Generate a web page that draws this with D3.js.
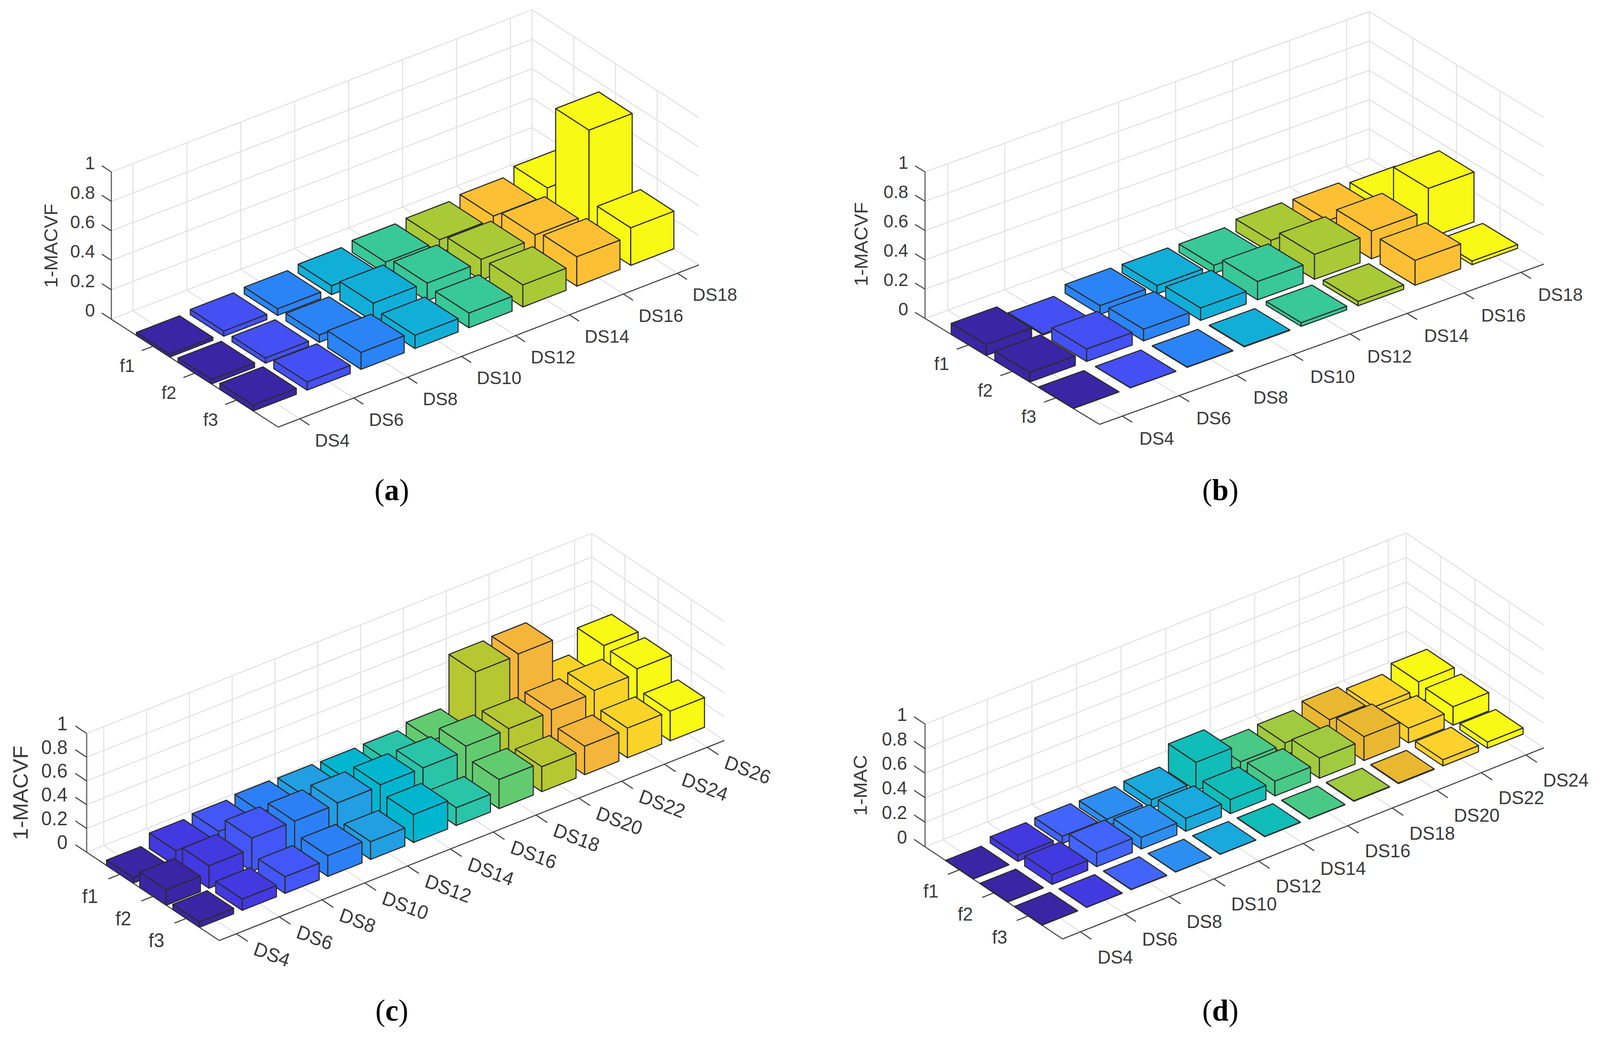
<!DOCTYPE html>
<html>
<head>
<meta charset="utf-8">
<script src="https://cdn.jsdelivr.net/npm/d3@7"></script>
<style>
  html, body { margin: 0; padding: 0; width: 100%; height: 100%; background: #fff; overflow: hidden; }
  svg { display: block; width: 100%; height: 100%; }
  text { font-family: "Liberation Sans", Arial, sans-serif; fill: #3a3a3a; }
</style>
</head>
<body>
<!-- the browser caps the viewport width below 4210, so the drawing is fitted to whatever the page gets -->
<svg id="chart" viewBox="0 0 4210 2659" preserveAspectRatio="none"></svg>
<script>
'use strict';

const rows = ['f1', 'f2', 'f3'];
const zTicks = [0, 0.2, 0.4, 0.6, 0.8, 1];

// Panel a
const dsA = ['DS4', 'DS6', 'DS8', 'DS10', 'DS12', 'DS14', 'DS16', 'DS18'];
const aF1 = [0.02, 0.035, 0.045, 0.06, 0.08, 0.09, 0.11, 0.16];
const aF2 = [0.03, 0.035, 0.05, 0.125, 0.12, 0.14, 0.165, 0.735];
const aF3 = [0.04, 0.055, 0.115, 0.09, 0.10, 0.15, 0.20, 0.255];
const colorsA = ['#3a26a4', '#4450f4', '#2a84f6', '#11afd8', '#39c897', '#a9c936', '#fdc034', '#f8f914'];

// Panel b
const dsB = ['DS4', 'DS6', 'DS8', 'DS10', 'DS12', 'DS14', 'DS16', 'DS18'];
const bF1 = [0.075, 0.007, 0.06, 0.057, 0.055, 0.085, 0.08, 0.055];
const bF2 = [0.065, 0.085, 0.08, 0.085, 0.125, 0.17, 0.19, 0.34];
const bF3 = [0.002, 0.002, 0.003, 0.004, 0.025, 0.03, 0.17, 0.025];
const colorsB = colorsA;

// Panel c
const dsC = ['DS4', 'DS6', 'DS8', 'DS10', 'DS12', 'DS14', 'DS16', 'DS18', 'DS20', 'DS22', 'DS24', 'DS26'];
const cF1 = [0.045, 0.13, 0.15, 0.17, 0.165, 0.16, 0.165, 0.205, 0.635, 0.645, 0.23, 0.43];
const cF2 = [0.13, 0.19, 0.28, 0.28, 0.29, 0.30, 0.30, 0.34, 0.345, 0.36, 0.38, 0.42];
const cF3 = [0.045, 0.095, 0.14, 0.175, 0.15, 0.235, 0.15, 0.245, 0.21, 0.24, 0.25, 0.25];
const colorsC = ['#3a26a4', '#4339e0', '#4356f8', '#2c80f6', '#229ee2', '#00b6cf', '#2ac4a8', '#62cb70', '#b6c731', '#f4b53b', '#f9d328', '#f8f914'];

// Panel d
const dsD = ['DS4', 'DS6', 'DS8', 'DS10', 'DS12', 'DS14', 'DS16', 'DS18', 'DS20', 'DS22', 'DS24'];
const dF1 = [0.002, 0.05, 0.06, 0.055, 0.07, 0.23, 0.09, 0.10, 0.145, 0.105, 0.165];
const dF2 = [0.003, 0.08, 0.115, 0.095, 0.105, 0.115, 0.12, 0.165, 0.195, 0.12, 0.15];
const dF3 = [0.002, 0.002, 0.003, 0.002, 0.002, 0.003, 0.003, 0.004, 0.005, 0.05, 0.05];
const colorsD = ['#3a26a4', '#4339e0', '#4264fb', '#2d8ef2', '#19a9dc', '#11bdb8', '#48c986', '#a0ca3f', '#e9b830', '#fcd12c', '#f8f914'];

const svg = d3.select('#chart');
svg.append('rect').attr('width', 4210).attr('height', 2659).attr('fill', '#fff');

function drawPanel(p) {
    const g = svg.append('g');
    const n = p.ds.length;

    // three skewed axes: each scale gives a screen offset along its own axis
    const fX = d3.scaleLinear().domain([0, 4]).range([0, p.front[0] - p.left[0]]);
    const fY = d3.scaleLinear().domain([0, 4]).range([0, p.front[1] - p.left[1]]);
    const dX = d3.scaleLinear().domain([0.6, n + 0.4]).range([0, p.right[0] - p.front[0]]);
    const dY = d3.scaleLinear().domain([0.6, n + 0.4]).range([0, p.right[1] - p.front[1]]);
    const zY = d3.scaleLinear().domain([0, 1]).range([0, -p.zHeight]);

    const project = (f, d, z) => [
        p.left[0] + fX(f) + dX(d),
        p.left[1] + fY(f) + dY(d) + zY(z)
    ];
    const line = (a, b, color, width) => g.append('line')
        .attr('x1', a[0]).attr('y1', a[1]).attr('x2', b[0]).attr('y2', b[1])
        .attr('stroke', color).attr('stroke-width', width);

    const gridColor = '#dedede', axisColor = '#3a3a3a';
    const dMin = 0.6, dMax = n + 0.4;
    const dTicks = d3.range(1, n + 1), fTicks = [1, 2, 3];

    // grid on the floor and the two back walls
    dTicks.forEach(d => {
        line(project(0, d, 0), project(4, d, 0), gridColor, 2.4);
        line(project(0, d, 0), project(0, d, 1), gridColor, 2.4);
    });
    fTicks.forEach(f => {
        line(project(f, dMin, 0), project(f, dMax, 0), gridColor, 2.4);
        line(project(f, dMax, 0), project(f, dMax, 1), gridColor, 2.4);
    });
    zTicks.forEach(z => {
        line(project(0, dMin, z), project(0, dMax, z), gridColor, 2.4);
        line(project(0, dMax, z), project(4, dMax, z), gridColor, 2.4);
    });
    line(project(0, dMax, 0), project(0, dMax, 1), gridColor, 2.4);

    // axis lines
    line(project(0, dMin, 0), project(0, dMin, 1), p.zAxisColor, p.zAxisWidth);
    line(project(0, dMin, 0), project(4, dMin, 0), axisColor, 2.6);
    line(project(4, dMin, 0), project(4, dMax, 0), axisColor, 2.6);

    // ticks and tick labels
    zTicks.forEach(z => {
        const a = project(0, dMin, z);
        line(a, project(-p.zTick, dMin, z), axisColor, 2.6);
        g.append('text').attr('x', a[0] + p.zLabel[0]).attr('y', a[1] + p.zLabel[1])
            .attr('text-anchor', 'end').attr('dominant-baseline', 'central')
            .attr('font-size', p.fontSize).text(String(z));
    });
    rows.forEach((name, i) => {
        const a = project(i + 1, dMin, 0);
        line(a, project(i + 1, dMin - p.fTick, 0), axisColor, 2.6);
        g.append('text').attr('x', a[0] + p.fLabel[0]).attr('y', a[1] + p.fLabel[1])
            .attr('text-anchor', 'middle').attr('dominant-baseline', 'central')
            .attr('font-size', p.fontSize).text(name);
    });
    p.ds.forEach((name, i) => {
        const a = project(4, i + 1, 0);
        line(a, project(4 + p.zTick, i + 1, 0), axisColor, 2.6);
        const x = a[0] + p.dLabel[0], y = a[1] + p.dLabel[1];
        g.append('text').attr('x', x).attr('y', y)
            .attr('text-anchor', 'start').attr('dominant-baseline', 'central')
            .attr('transform', p.dRotate ? `rotate(${p.dRotate} ${x} ${y})` : null)
            .attr('font-size', p.fontSize).text(name);
    });

    g.append('text')
        .attr('transform', `translate(${p.yTitle[0]},${p.yTitle[1]}) rotate(-90)`)
        .attr('text-anchor', 'middle').attr('dominant-baseline', 'central')
        .attr('font-size', p.titleSize).text(p.yName);

    // bars, back to front
    const w = 0.4;
    const outline = pts => 'M' + pts.map(q => q.join(',')).join('L') + 'Z';
    rows.forEach((name, r) => {
        const f = r + 1;
        for (let i = n - 1; i >= 0; i--) {
            const d = i + 1, z = p.values[r][i];
            const faces = [
                [project(f - w, d - w, 0), project(f + w, d - w, 0), project(f + w, d - w, z), project(f - w, d - w, z)],
                [project(f + w, d - w, 0), project(f + w, d + w, 0), project(f + w, d + w, z), project(f + w, d - w, z)],
                [project(f - w, d - w, z), project(f + w, d - w, z), project(f + w, d + w, z), project(f - w, d + w, z)]
            ];
            g.selectAll(null).data(faces).enter().append('path')
                .attr('d', outline)
                .attr('fill', p.colors[i])
                .attr('stroke', '#2a2a2a')
                .attr('stroke-width', 2.8)
                .attr('stroke-linejoin', 'round');
        }
    });

    // caption
    const cap = svg.append('text').attr('x', p.caption[0]).attr('y', p.caption[1])
        .attr('text-anchor', 'middle').attr('font-size', 78)
        .style('font-family', '"Liberation Serif", serif').style('fill', '#000');
    cap.append('tspan').text('(');
    cap.append('tspan').attr('font-weight', 'bold').text(p.letter);
    cap.append('tspan').text(')');
}

drawPanel({
    letter: 'a', ds: dsA, values: [aF1, aF2, aF3], colors: colorsA, yName: '1-MACVF',
    left: [293, 817], front: [732, 1093], right: [1839, 678], zHeight: 377,
    zLabel: [-43, -23], fLabel: [-68, 50], dLabel: [40, 55], zTick: 0.23, fTick: 0.21,
    zAxisColor: '#555', zAxisWidth: 2.8,
    yTitle: [134, 629], fontSize: 47, titleSize: 49, caption: [1031, 1280]
});
drawPanel({
    letter: 'b', ds: dsB, values: [bF1, bF2, bF3], colors: colorsB, yName: '1-MACVF',
    left: [2434, 815], front: [2893, 1086], right: [4062, 676], zHeight: 375,
    zLabel: [-44, -24], fLabel: [-71, 48], dLabel: [45, 57], zTick: 0.23, fTick: 0.21,
    zAxisColor: '#555', zAxisWidth: 2.8,
    yTitle: [2266, 625], fontSize: 47, titleSize: 49, caption: [3211, 1280]
});
drawPanel({
    letter: 'c', ds: dsC, values: [cF1, cF2, cF3], colors: colorsC, yName: '1-MACVF',
    left: [228, 2181], front: [577, 2407], right: [1906, 1895], zHeight: 304,
    zLabel: [-50, -26], fLabel: [-78, 56], dLabel: [48, 36], dRotate: 20, zTick: 0.34, fTick: 0.27,
    zAxisColor: '#777', zAxisWidth: 3.6,
    yTitle: [54, 2029], fontSize: 50, titleSize: 55, caption: [1031, 2612]
});
drawPanel({
    letter: 'd', ds: dsD, values: [dF1, dF2, dF3], colors: colorsD, yName: '1-MAC',
    left: [2434, 2167], front: [2796, 2403], right: [4062, 1914], zHeight: 314,
    zLabel: [-47, -25], fLabel: [-75, 54], dLabel: [45, 64], zTick: 0.32, fTick: 0.26,
    zAxisColor: '#555', zAxisWidth: 2.8,
    yTitle: [2263, 2010], fontSize: 48, titleSize: 50, caption: [3211, 2612]
});
</script>
</body>
</html>
